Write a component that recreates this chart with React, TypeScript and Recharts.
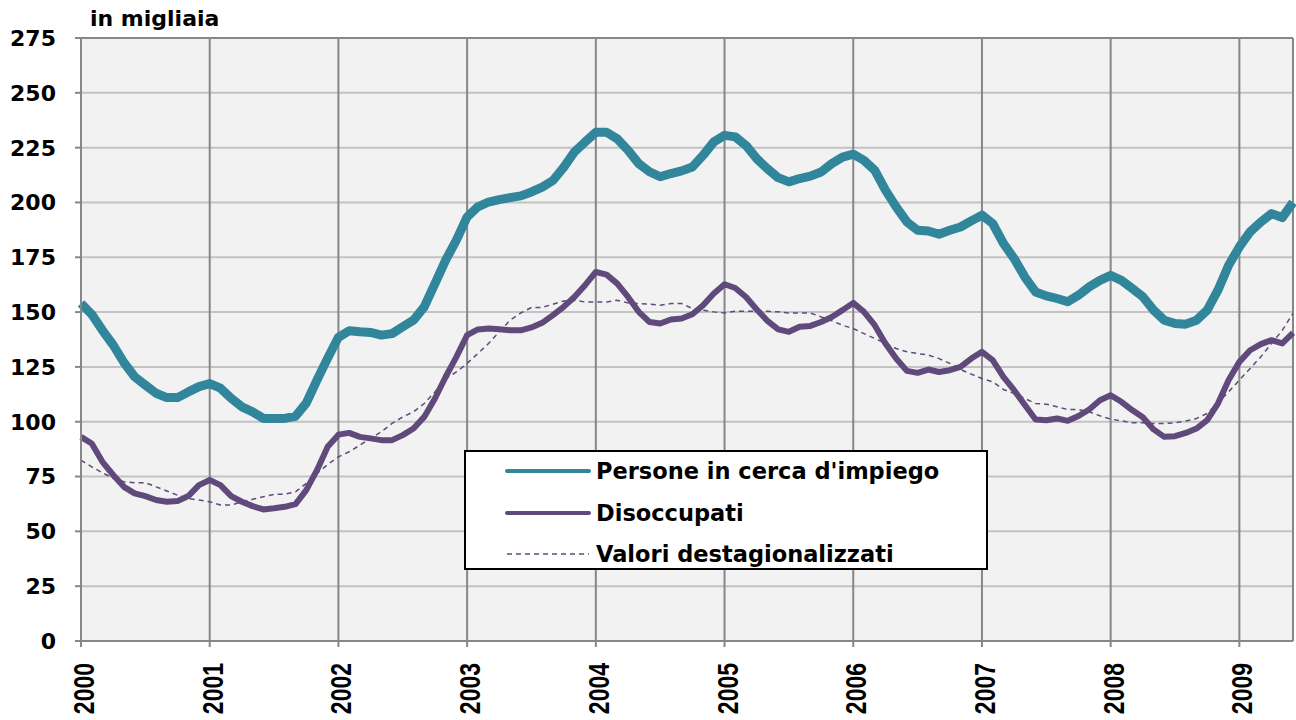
import { LineChart, Line, XAxis, YAxis, CartesianGrid, Legend, ReferenceLine } from 'recharts'

// monthly values, Jan 2000 - Jun 2009 (thousands)
const persone = [
  154, 149, 141.7, 135, 127, 120.5, 116.7, 113, 111, 111, 113.6, 116,
  117.4, 115.3, 110.7, 106.8, 104.5, 101.5, 101.5, 101.5, 102.5, 108.5, 119, 129,
  138.5, 141.5, 141, 140.7, 139.5, 140.2, 143.3, 146.3, 152.4, 163, 173.7, 182.8,
  193.4, 198, 200.2, 201.3, 202.2, 203, 204.8, 207, 210, 216, 223, 227.6,
  232, 232, 229, 223.8, 217.7, 214, 211.7, 213.2, 214.4, 216.2, 221.5, 227.6,
  230.6, 229.9, 226, 220, 215.4, 211.3, 209.4, 210.9, 212, 213.9, 217.7, 220.7,
  222, 219.2, 214.7, 205.6, 198, 191.1, 187.3, 187, 185.5, 187.3, 188.8, 191.6,
  194.2, 190.4, 181.3, 174.4, 166, 159.2, 157.4, 156.2, 154.7, 157.7, 161.5, 164.5,
  166.7, 164.5, 160.8, 157, 150.9, 146.3, 144.8, 144.5, 146.3, 150.9, 160, 171.4,
  179.7, 186.6, 191.1, 194.9, 193.1, 200,
]

const disoccupati = [
  93.1, 90.1, 81.7, 75.7, 70.3, 67.3, 66.1, 64.3, 63.5, 63.8, 66.1, 71.1,
  73.4, 71.1, 66.1, 63.5, 61.5, 60, 60.5, 61.2, 62.4, 68.8, 77.9, 88.6,
  94.1, 94.9, 93.1, 92.4, 91.6, 91.6, 93.9, 96.9, 102.2, 110.6, 120.5, 129.6,
  139.5, 142.1, 142.5, 142.2, 141.7, 141.7, 143, 145.1, 148.6, 152.4, 156.9, 162.3,
  168.3, 167.1, 163, 156.9, 150.1, 145.5, 144.8, 146.6, 147.1, 149, 153.1, 158.5,
  162.7, 161, 156.9, 151.2, 146, 142.1, 141, 143.3, 143.7, 145.5, 147.8, 150.9,
  154.2, 150.1, 144, 135.7, 128.8, 123.2, 122.3, 123.8, 122.7, 123.5, 125, 128.8,
  131.9, 128.1, 120.5, 114.4, 107.6, 101, 100.7, 101.5, 100.4, 102.6, 105.6, 109.8,
  112.1, 109.1, 105.3, 102, 96.5, 93.1, 93.4, 94.9, 96.9, 100.7, 108.3, 119,
  127.3, 132.6, 135.4, 137.2, 135.7, 140.5,
]

const destag = [
  82.5, 79.4, 76.7, 74.2, 72.6, 72.2, 72.2, 70.3, 68.4, 66.5, 65, 64.3,
  63.5, 62, 62, 63.5, 64.6, 65.8, 66.9, 67, 68, 71.9, 76.4, 80.5,
  84, 86.3, 89.3, 92.4, 95.4, 99.2, 102.2, 104.5, 108.3, 113.6, 119.7, 122.7,
  126.6, 131.1, 135.7, 141, 146.3, 149.6, 152.1, 152.1, 153.6, 155.1, 155.4, 154.6,
  154.6, 154.6, 155.4, 154.2, 153.9, 153.6, 153.1, 153.9, 153.9, 151.6, 150.9, 150.1,
  149.6, 150.4, 150.4, 150.4, 150.4, 150.1, 149.6, 149.6, 149.6, 147.8, 146, 144,
  142.5, 140.2, 138, 135.7, 133.4, 131.9, 131.1, 130.4, 128.8, 126.6, 123.8, 121.7,
  119.7, 118.2, 114.7, 112.9, 110.6, 108.3, 108, 106.8, 105.6, 105.6, 104.5, 102.7,
  101.2, 100.4, 99.5, 99.5, 99.2, 99.2, 99.5, 100.3, 101.5, 103.8, 108.6, 113.6,
  119, 124.3, 129.6, 135.7, 141.7, 149.4,
]

const years = ['2000', '2001', '2002', '2003', '2004', '2005', '2006', '2007', '2008', '2009']
const yTicks = [0, 25, 50, 75, 100, 125, 150, 175, 200, 225, 250, 275]

const TEAL = '#31869b'
const PURPLE = '#604a7b'
const FONT = '"DejaVu Sans", sans-serif'

const data = persone.map((v, i) => ({ m: i, persone: v, disoccupati: disoccupati[i], destag: destag[i] }))
const xTicks = years.map((_, i) => i * 12)
const lastMonth = persone.length - 1

const series = [
  { key: 'persone', name: "Persone in cerca d'impiego", color: TEAL, width: 4, dash: undefined },
  { key: 'disoccupati', name: 'Disoccupati', color: PURPLE, width: 4, dash: undefined },
  { key: 'destag', name: 'Valori destagionalizzati', color: PURPLE, width: 1.5, dash: '5 4' },
]

const YTick = ({ y, payload }: any) => (
  <text x={56} y={y} dy="0.36em" textAnchor="end" fontFamily={FONT} fontWeight="bold" fontSize={22} fill="#000">
    {payload.value}
  </text>
)

const XTick = ({ x, payload }: any) => (
  <g transform={`translate(${x + 13},663) scale(1.25,1)`}>
    <text transform="rotate(-90)" textAnchor="end" fontFamily='"Liberation Sans", Arial, sans-serif' fontWeight="bold" fontSize={23} fill="#000">
      {years[payload.value / 12]}
    </text>
  </g>
)

const LegendBox = () => (
  <div style={{ width: 524, height: 120, border: '2px solid #000', background: '#fff', boxSizing: 'border-box', position: 'relative' }}>
    {series.map((s, i) => (
      <div key={s.key} style={{ position: 'absolute', left: 0, top: 4 + i * 41.5, height: 30, display: 'flex', alignItems: 'center' }}>
        <svg width={130} height={30} style={{ display: 'block' }}>
          <line x1={41} x2={123} y1={15} y2={15} stroke={s.color} strokeWidth={s.width} strokeDasharray={s.dash} strokeLinecap={s.dash ? 'butt' : 'round'} />
        </svg>
        <span style={{ fontFamily: FONT, fontWeight: 'bold', fontSize: 22.5, color: '#000', whiteSpace: 'nowrap' }}>{s.name}</span>
      </div>
    ))}
  </div>
)

export default function App() {
  return (
    <div style={{ position: 'absolute', left: 0, top: 0, width: 1296, height: 720, background: '#fff' }}>
      <div style={{ position: 'absolute', left: 90, top: 6, fontFamily: FONT, fontWeight: 'bold', fontSize: 22, color: '#000', zIndex: 2 }}>
        in migliaia
      </div>
      <LineChart width={1296} height={720} data={data} margin={{ top: 38, right: 3, bottom: 0, left: 0 }}>
        <CartesianGrid vertical={false} stroke="#c3c3c3" strokeWidth={2} fill="#f2f2f2" />
        <CartesianGrid horizontal={false} stroke="#878787" strokeWidth={2} />
        <XAxis
          dataKey="m"
          type="number"
          domain={[0, lastMonth]}
          ticks={xTicks}
          interval={0}
          height={79}
          tickSize={6}
          axisLine={{ stroke: '#878787', strokeWidth: 2 }}
          tickLine={{ stroke: '#878787', strokeWidth: 2 }}
          tick={<XTick />}
        />
        <YAxis
          type="number"
          domain={[0, 275]}
          ticks={yTicks}
          interval={0}
          width={81}
          tickSize={6}
          axisLine={{ stroke: '#878787', strokeWidth: 2 }}
          tickLine={{ stroke: '#878787', strokeWidth: 2 }}
          tick={<YTick />}
        />
        <ReferenceLine y={275} stroke="#878787" strokeWidth={2} />
        <ReferenceLine x={lastMonth} stroke="#878787" strokeWidth={2} />
        <Line dataKey="persone" name="Persone in cerca d'impiego" type="linear" stroke={TEAL} strokeWidth={9} strokeLinejoin="round" dot={false} activeDot={false} isAnimationActive={false} />
        <Line dataKey="disoccupati" name="Disoccupati" type="linear" stroke={PURPLE} strokeWidth={6} strokeLinejoin="round" dot={false} activeDot={false} isAnimationActive={false} />
        <Line dataKey="destag" name="Valori destagionalizzati" type="linear" stroke={PURPLE} strokeWidth={1.5} strokeDasharray="5 4" dot={false} activeDot={false} isAnimationActive={false} />
        <Legend
          layout="vertical"
          align="center"
          verticalAlign="middle"
          content={<LegendBox />}
          wrapperStyle={{ position: 'absolute', left: 464, top: 450, width: 524, height: 120 }}
        />
      </LineChart>
    </div>
  )
}
